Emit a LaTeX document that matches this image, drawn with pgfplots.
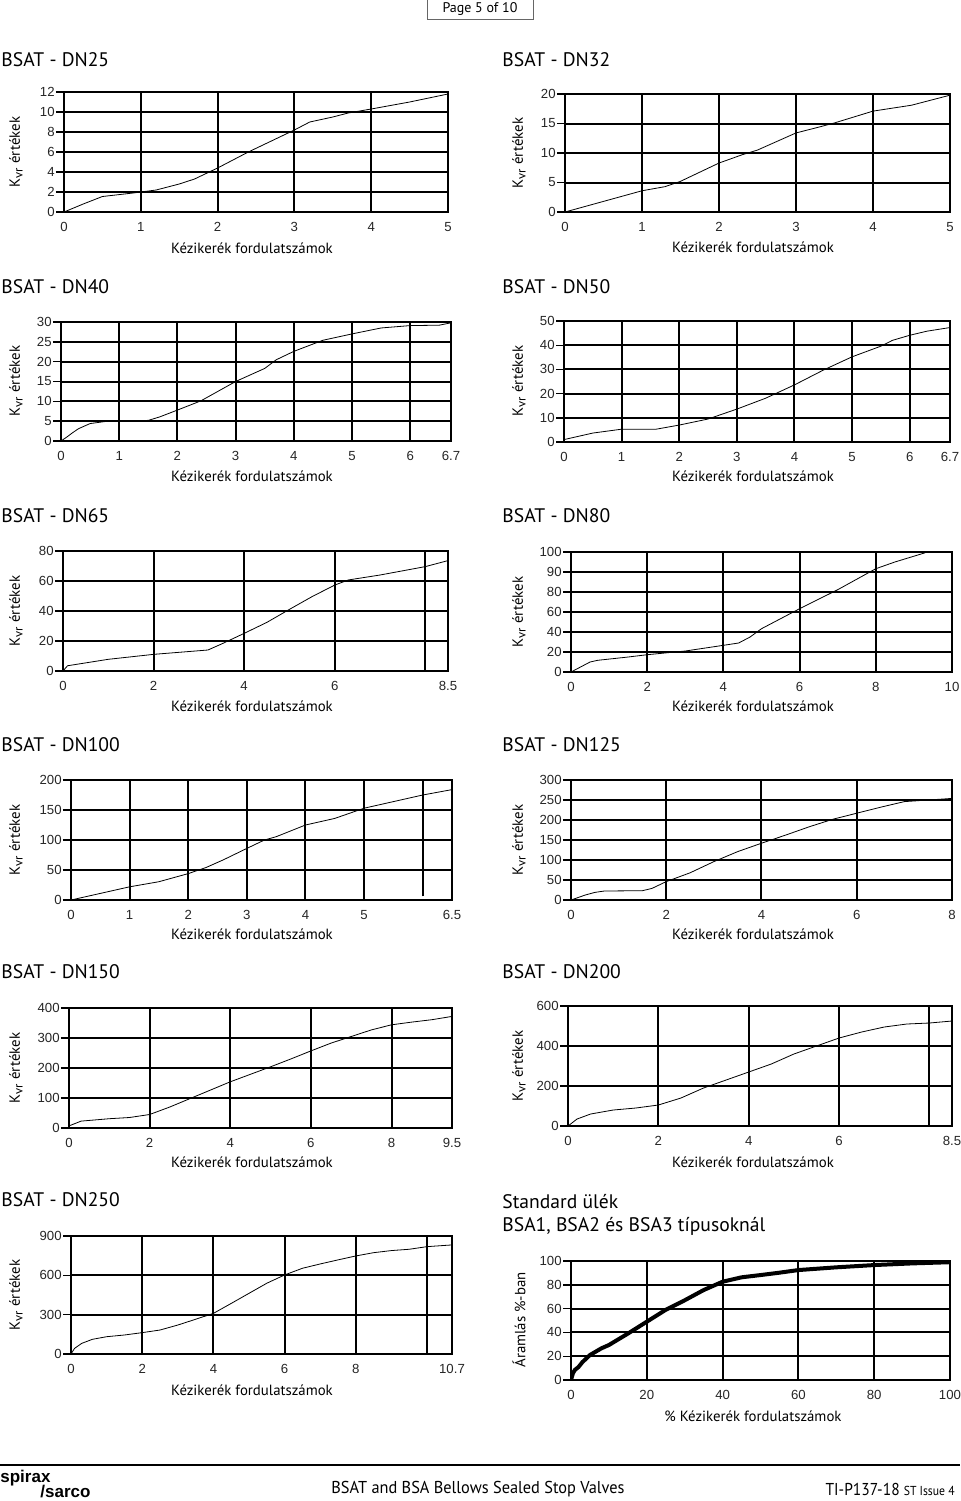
\documentclass[border=0pt]{standalone}
\usepackage{fontspec}
\setmainfont{PT Sans}
\newfontfamily\lib{Liberation Sans}
\usepackage{pgfplots}
\pgfplotsset{compat=1.18}
\newcommand\tk{\lib\fontsize{6.6pt}{7pt}\selectfont}
\newcommand\ttl{\fontsize{9.8pt}{11pt}\selectfont}
\newcommand\lbl{\fontsize{7.4pt}{9pt}\selectfont}
\newcommand\kvr{K\raisebox{-0.35ex}{\fontsize{6.3pt}{7pt}\selectfont vr} értékek}
\pgfplotsset{
  kv/.style={
    scale only axis, anchor=north west,
    axis line style={line width=1pt},
    grid=major,
    major grid style={line width=1pt, black},
    tick align=outside,
    ytick style={line width=0.7pt, black},
    xtick style={draw=none},
    major tick length=4pt,
    xtick pos=bottom, ytick pos=left,
    tick label style={font=\tk, text=black!85},
    yticklabel style={inner sep=0.5pt},
    xticklabel style={inner sep=1pt},
    /pgf/number format/assume math mode=true,
    cycle list={{black, line width=0.7pt, no markers}},
  }
}
\begin{document}
\begin{tikzpicture}
\useasboundingbox (0,0) rectangle (480pt,-750.5pt);
\begin{scope}[x=0.5pt,y=-0.5pt]
% header
\draw[black!60, line width=0.4pt] (427,-2) rectangle (533,19);
\node[font=\fontsize{7pt}{8pt}\selectfont] at (480,9) {Page 5 of 10};
% titles
\foreach \t/\yy in {DN25/60,DN40/287,DN65/516,DN100/745,DN150/972,DN250/1200}
  \node[anchor=west, inner sep=0, font=\ttl] at (1,\yy) {BSAT - \t};
\foreach \t/\yy in {DN32/60,DN50/287,DN80/516,DN125/745,DN200/972}
  \node[anchor=west, inner sep=0, font=\ttl] at (502,\yy) {BSAT - \t};
\node[anchor=west, inner sep=0, font=\ttl] at (502,1202) {Standard ülék};
\node[anchor=west, inner sep=0, font=\ttl] at (502,1226) {BSA1, BSA2 és BSA3 típusoknál};
% x labels
\foreach \yy in {248,476,706,934,1162,1390}
  \node[font=\lbl] at (252,\yy) {Kézikerék fordulatszámok};
\foreach \yy in {247,476,706,934,1162}
  \node[font=\lbl] at (753,\yy) {Kézikerék fordulatszámok};
\node[font=\lbl] at (753,1416) {\% Kézikerék fordulatszámok};
% y labels
\foreach \yy in {152,381,611,840,1068,1295}
  \node[font=\lbl, rotate=90] at (16,\yy) {\kvr};
\foreach \yy in {153,381,612,840,1066}
  \node[font=\lbl, rotate=90] at (519,\yy) {\kvr};
\node[font=\lbl, rotate=90] at (519,1320) {Áramlás \%-ban};
% footer
\draw[line width=1pt] (0,1465) -- (960,1465);
\node[anchor=west, inner sep=0, font=\lib\bfseries\fontsize{8.5pt}{9pt}\selectfont] at (0,1478) {spirax};
\node[anchor=west, inner sep=0, font=\lib\bfseries\fontsize{8.5pt}{9pt}\selectfont] at (40,1491) {/sarco};
\node[font=\fontsize{8.6pt}{10pt}\selectfont, xscale=0.95] at (478,1489) {BSAT and BSA Bellows Sealed Stop Valves};
\node[anchor=east, inner sep=0, font=\fontsize{8.6pt}{10pt}\selectfont, xscale=0.9] at (955,1489) {TI-P137-18 {\fontsize{6.5pt}{7pt}\selectfont ST Issue 4}};
\end{scope}

% DN25
\begin{axis}[kv, at={(32pt,-46pt)}, width=192pt, height=60pt,
  xmin=0, xmax=5, ymin=0, ymax=12, xtick={0,1,2,3,4,5}, ytick={0,2,4,6,8,10,12}]
\addplot coordinates {(0,0)(0.25,0.8)(0.5,1.55)(0.9,1.9)(1.0,2.0)(1.2,2.2)(1.5,2.8)(1.7,3.3)(2.0,4.4)(2.4,6.0)(2.7,7.1)(3.0,8.2)(3.2,9.0)(3.5,9.5)(3.7,9.9)(4.0,10.3)(4.5,11.0)(5.0,11.8)};
\end{axis}
% DN32
\begin{axis}[kv, at={(282.5pt,-47pt)}, width=192.5pt, height=59pt,
  xmin=0, xmax=5, ymin=0, ymax=20, xtick={0,1,2,3,4,5}, ytick={0,5,10,15,20}]
\addplot coordinates {(0,0)(0.5,1.8)(1.0,3.6)(1.3,4.3)(1.5,5.2)(2.0,8.3)(2.3,9.7)(2.5,10.5)(3.0,13.4)(3.3,14.4)(3.5,15.1)(4.0,17.1)(4.5,18.1)(5.0,19.8)};
\end{axis}
% DN40
\begin{axis}[kv, at={(30.5pt,-161pt)}, width=195pt, height=59.5pt,
  xmin=0, xmax=6.7, ymin=0, ymax=30, xtick={0,1,2,3,4,5,6,6.7}, xticklabels={0,1,2,3,4,5,6,6.7}, ytick={0,5,10,15,20,25,30}]
\addplot coordinates {(0,0)(0.1,1.0)(0.2,2.1)(0.3,3.1)(0.5,4.4)(0.8,5.0)(1.0,5.1)(1.5,5.2)(1.7,6.1)(2.0,7.8)(2.4,10.1)(3.0,15.0)(3.5,18.3)(3.7,20.5)(4.0,22.6)(4.5,25.4)(5.0,27.0)(5.5,28.5)(6.0,29.1)(6.5,29.2)(6.7,29.8)};
\end{axis}
% DN50
\begin{axis}[kv, at={(282pt,-160.5pt)}, width=193pt, height=60.5pt,
  xmin=0, xmax=6.7, ymin=0, ymax=50, xtick={0,1,2,3,4,5,6,6.7}, xticklabels={0,1,2,3,4,5,6,6.7}, ytick={0,10,20,30,40,50}]
\addplot coordinates {(0,1)(0.5,3.7)(1.0,5.3)(1.6,5.3)(2.0,7.0)(2.5,9.5)(3.0,13.6)(3.5,18.1)(4.0,23.6)(4.5,29.7)(5.0,35.2)(5.5,39.6)(5.7,42)(6.0,44.1)(6.3,45.8)(6.7,47.3)};
\end{axis}
% DN65
\begin{axis}[kv, at={(31.5pt,-275.5pt)}, width=192.5pt, height=60pt,
  xmin=0, xmax=8.5, ymin=0, ymax=80, xtick={0,2,4,6,8,8.5}, xticklabels={0,2,4,6,,8.5}, ytick={0,20,40,60,80}]
\addplot coordinates {(0,0)(0.1,3.5)(1.0,7.8)(2.0,11.1)(3.2,14)(3.5,18)(4.0,25.1)(4.5,32.4)(5.0,41.1)(5.5,49.6)(6.0,57.3)(6.3,60.7)(7.0,64)(8.0,69.6)(8.5,73.6)};
\end{axis}
% DN80
\begin{axis}[kv, at={(285.5pt,-276pt)}, width=190.5pt, height=60pt,
  xmin=0, xmax=10, ymin=0, ymax=120, xtick={0,2,4,6,8,10}, ytick={0,20,40,60,80,100,120}, yticklabels={0,20,40,60,80,90,100}]
\addplot coordinates {(0,0)(0.3,6)(0.5,10)(0.7,11.7)(1.5,15)(2.0,17.3)(3.0,21)(4.0,26.7)(4.4,29)(4.7,35)(5.0,43.3)(5.5,53.3)(6.0,63.3)(7.0,82.3)(8.0,103.3)(8.5,110)(9.3,119.3)};
\end{axis}
% DN100
\begin{axis}[kv, at={(35.5pt,-390pt)}, width=190.5pt, height=60pt,
  xmin=0, xmax=6.5, ymin=0, ymax=200, xtick={0,1,2,3,4,5,6.5}, xticklabels={0,1,2,3,4,5,6.5}, ytick={0,50,100,150,200}]
\draw[line width=1pt] (axis cs:6,6) -- (axis cs:6,200);
\addplot coordinates {(0,0)(0.5,11)(1.0,22)(1.5,30.5)(2.0,44)(2.3,54)(2.6,67)(3.0,86)(3.3,100)(3.5,105.5)(4.0,125)(4.5,136)(5.0,153)(5.5,164)(6.0,175)(6.5,184)};
\end{axis}
% DN125
\begin{axis}[kv, at={(285.5pt,-390pt)}, width=190.5pt, height=60pt,
  xmin=0, xmax=8, ymin=0, ymax=300, xtick={0,2,4,6,8}, ytick={0,50,100,150,200,250,300}]
\addplot coordinates {(0,0)(0.3,12.5)(0.5,19)(0.7,22.5)(1.5,23.3)(1.7,29)(2.0,46)(2.5,68)(3.0,96)(3.5,121)(4.0,142)(4.5,162)(5.0,183)(5.5,202)(6.0,217)(6.5,232)(7.0,246)(7.5,250)(8.0,254)};
\end{axis}
% DN150
\begin{axis}[kv, at={(34.5pt,-504pt)}, width=191.5pt, height=60pt,
  xmin=0, xmax=9.5, ymin=0, ymax=400, xtick={0,2,4,6,8,9.5}, xticklabels={0,2,4,6,8,9.5}, ytick={0,100,200,300,400}]
\addplot coordinates {(0,7)(0.3,23)(1.0,31)(1.5,35)(2.0,45)(2.5,70)(3.0,98)(3.5,126)(4.0,154)(4.5,179)(5.0,204)(5.5,230)(6.0,257)(6.5,283)(7.0,305)(7.5,327)(8.0,344)(8.5,353)(9.0,361)(9.5,372)};
\end{axis}
% DN200
\begin{axis}[kv, at={(284pt,-503pt)}, width=192pt, height=60pt,
  xmin=0, xmax=8.5, ymin=0, ymax=600, xtick={0,2,4,6,8,8.5}, xticklabels={0,2,4,6,,8.5}, ytick={0,200,400,600}]
\addplot coordinates {(0,0)(0.2,35)(0.5,60)(1.0,80)(1.5,90)(2.0,105)(2.5,140)(3.0,190)(3.5,230)(4.0,270)(4.5,310)(5.0,360)(5.5,400)(6.0,440)(6.5,470)(7.0,495)(7.5,510)(8.0,515)(8.5,525)};
\end{axis}
% DN250
\begin{axis}[kv, at={(35.5pt,-618pt)}, width=190.5pt, height=59pt,
  xmin=0, xmax=10.7, ymin=0, ymax=900, xtick={0,2,4,6,8,10,10.7}, xticklabels={0,2,4,6,8,,10.7}, ytick={0,300,600,900}]
\addplot coordinates {(0,0)(0.1,43)(0.3,81)(0.6,112)(1.0,132)(1.5,145)(2.0,163)(2.5,183)(3.0,221)(3.5,265)(4.0,310)(4.5,386)(5.0,463)(5.5,540)(6.0,603)(6.5,654)(7.0,687)(7.5,718)(8.0,748)(8.5,773)(9.0,789)(9.5,799)(10.0,819)(10.7,832)};
\end{axis}
% BSA
\begin{axis}[kv, at={(285.5pt,-630.5pt)}, width=189.5pt, height=59.5pt,
  xmin=0, xmax=100, ymin=0, ymax=100, xtick={0,20,40,60,80,100}, ytick={0,20,40,60,80,100}]
\addplot[black, line width=2pt] coordinates {(0,0)(0.5,5.6)(1,8.4)(2,11)(3,15)(5,21)(8,26.6)(10,29.4)(15,39)(20,49)(25,59)(30,67)(35,75.6)(40,82.6)(45,86.3)(50,88.2)(55,90.2)(60,92.4)(70,94.7)(80,96.6)(90,98)(100,99)};
\end{axis}
\end{tikzpicture}
\end{document}
